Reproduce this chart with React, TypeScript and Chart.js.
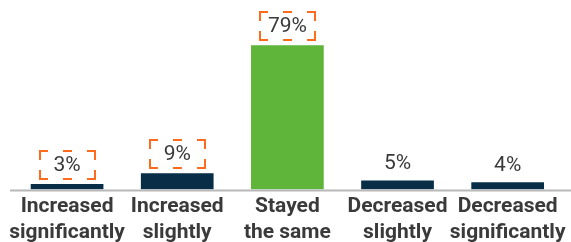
import React, { useEffect, useRef } from "react";
import { Chart, registerables } from "chart.js";

Chart.register(...registerables);

const categories: string[][] = [
  ["Increased", "significantly"],
  ["Increased", "slightly"],
  ["Stayed", "the same"],
  ["Decreased", "slightly"],
  ["Decreased", "significantly"],
];
const values: number[] = [3, 9, 79, 5, 4];
const valueLabels: string[] = ["3%", "9%", "79%", "5%", "4%"];
const highlighted: boolean[] = [true, true, true, false, false];
const barColors: string[] = ["#072d47", "#072d47", "#5fb43a", "#072d47", "#072d47"];

const ORANGE = "#ff6b1c";
const TEXT = "#3a3a3a";

const labelPlugin = {
  id: "valueLabels",
  afterDatasetsDraw(chart: any) {
    const ctx = chart.ctx;
    const meta = chart.getDatasetMeta(0);
    const area = chart.chartArea;
    ctx.save();
    // axis line
    ctx.strokeStyle = "#b8b8b8";
    ctx.lineWidth = 2;
    ctx.beginPath();
    ctx.moveTo(10, area.bottom + 1);
    ctx.lineTo(chart.width, area.bottom + 1);
    ctx.stroke();

    ctx.font = "21px Roboto";
    ctx.fillStyle = TEXT;
    ctx.textAlign = "center";
    ctx.textBaseline = "middle";
    meta.data.forEach((el: any, i: number) => {
      const x = el.x;
      const top = el.y;
      if (highlighted[i]) {
        const w = 55, h = 28;
        const L = Math.round(x - w / 2), R = L + w;
        const B = Math.round(top - 5), T = B - h;
        const a = 8;
        ctx.strokeStyle = ORANGE;
        ctx.lineWidth = 2;
        ctx.lineJoin = "miter";
        ctx.lineCap = "butt";
        ctx.beginPath();
        ctx.moveTo(L + a, T); ctx.lineTo(L, T); ctx.lineTo(L, T + a + 1);
        ctx.moveTo(R - a, T); ctx.lineTo(R, T); ctx.lineTo(R, T + a + 1);
        ctx.moveTo(L + a, B); ctx.lineTo(L, B); ctx.lineTo(L, B - a - 1);
        ctx.moveTo(R - a, B); ctx.lineTo(R, B); ctx.lineTo(R, B - a - 1);
        const cx = (L + R) / 2;
        ctx.moveTo(cx - 4.5, T); ctx.lineTo(cx + 4.5, T);
        ctx.moveTo(cx - 4.5, B); ctx.lineTo(cx + 4.5, B);
        ctx.stroke();
        ctx.fillText(valueLabels[i], x, (T + B) / 2 + 1);
      } else {
        ctx.fillText(valueLabels[i], x, top - 17);
      }
    });
    ctx.restore();
  },
};

export default function App() {
  const ref = useRef<HTMLCanvasElement | null>(null);
  useEffect(() => {
    document.body.style.margin = "0";
    const canvas = ref.current!;
    const chart = new Chart(canvas, {
      type: "bar",
      data: {
        labels: categories,
        datasets: [
          {
            data: values,
            backgroundColor: barColors,
            borderWidth: 0,
            barPercentage: 1,
            categoryPercentage: 0.66,
          },
        ],
      },
      options: {
        responsive: false,
        animation: false,
        layout: { padding: { left: 12, right: 5, top: 7, bottom: -8 } },
        plugins: { legend: { display: false }, tooltip: { enabled: false } },
        scales: {
          y: { display: false, min: 0, max: 100 },
          x: {
            grid: { display: false, drawTicks: false },
            border: { display: false },
            ticks: {
              color: TEXT,
              padding: 5,
              maxRotation: 0,
              autoSkip: false,
              font: { family: "Roboto", size: 21, weight: "bold", lineHeight: 1.2 },
            },
          },
        },
      },
      plugins: [labelPlugin],
    });
    return () => chart.destroy();
  }, []);
  return (
    <div style={{ position: "relative", width: 571, height: 242 }}>
      <canvas ref={ref} width={571} height={242} style={{ display: "block" }} />
    </div>
  );
}
